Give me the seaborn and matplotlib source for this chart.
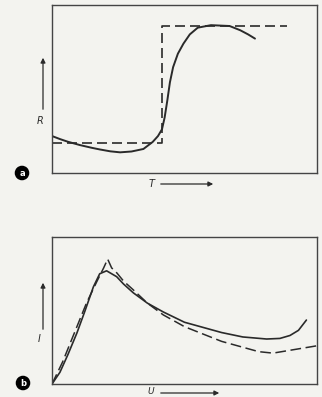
import numpy as np
import pandas as pd
import matplotlib
matplotlib.use('Agg')
import matplotlib.pyplot as plt
import seaborn as sns

# Panel a: resistance R vs temperature T
a_step_x = [0, 41.5, 41.5, 88.7]
a_step_y = [17.9, 17.9, 87.5, 87.5]
a_curve_x = [0, 3, 6, 10.6, 15, 18.1, 22, 25.7, 30, 34.5, 38, 40, 41.5, 42.5, 43.5,
             44.5, 45.7, 47.5, 49.6, 52, 55, 60, 67, 71, 74, 76.6]
a_curve_y = [22, 20.2, 18.6, 16.6, 15, 14, 12.9, 12.3, 12.8, 14.3, 18.5, 22, 26, 33, 43,
             54, 63, 71, 77, 82.5, 86.5, 88, 87.5, 85, 82.5, 80]

# Panel b: current I vs voltage U
b_solid_x = [0, 3, 6, 9.4, 12.5, 15.6, 18, 20.6, 24.4, 27, 30.7, 36, 42, 50, 56, 64,
             72, 81, 86, 89.8, 93, 96]
b_solid_y = [0, 8, 20, 34.7, 50, 66, 75, 77, 73, 68, 62, 55, 49, 42, 39, 35,
             32, 30.6, 31, 33, 36.5, 43.5]
b_dash_x = [0, 4, 8.5, 13, 17, 19.5, 21, 22.5, 24.5, 27, 30.7, 36, 42, 50, 56, 64,
            72, 78, 83.4, 90, 100]
b_dash_y = [0, 15, 35, 55, 70, 79, 85, 79, 75.5, 70, 64, 55, 47, 39, 34.7, 29,
            25, 22, 21, 23, 26]

sns.set_style('white')
bg = '#f3f3ef'
ink = '#2a2a2a'

fig = plt.figure(figsize=(3.22, 3.97), dpi=100, facecolor=bg)

ax_a = fig.add_axes([52/322, (397-173)/397, 265/322, 168/397], facecolor=bg)
ax_b = fig.add_axes([52/322, (397-384)/397, 265/322, 147/397], facecolor=bg)

kw = dict(sort=False, estimator=None, errorbar=None, color=ink)
sns.lineplot(x=a_step_x, y=a_step_y, ax=ax_a, lw=1.2, linestyle=(0, (6, 3)), **kw)
sns.lineplot(x=a_curve_x, y=a_curve_y, ax=ax_a, lw=1.4, **kw)

sns.lineplot(x=b_dash_x, y=b_dash_y, ax=ax_b, lw=1.1, linestyle=(0, (7, 3)), **kw)
sns.lineplot(x=b_solid_x, y=b_solid_y, ax=ax_b, lw=1.2, **kw)

for ax in (ax_a, ax_b):
    ax.set_xlim(0, 100)
    ax.set_ylim(0, 100)
    ax.set_xticks([])
    ax.set_yticks([])
    ax.set_xlabel('')
    ax.set_ylabel('')
    for s in ax.spines.values():
        s.set_color('#444444')
        s.set_linewidth(1.0)

arrow = dict(arrowstyle='-|>', color=ink, lw=0.9, mutation_scale=7)

def px(x, y):
    return (x / 322, 1 - y / 397)

# axis arrows and labels
fig.add_artist(plt.Annotation('', xy=px(43, 55), xytext=px(43, 112), xycoords='figure fraction',
                              arrowprops=arrow))
fig.text(*px(40, 121), 'R', fontsize=7, style='italic', color=ink, ha='center', va='center')
fig.add_artist(plt.Annotation('', xy=px(216, 184), xytext=px(158, 184), xycoords='figure fraction',
                              arrowprops=arrow))
fig.text(*px(152, 184), 'T', fontsize=7, style='italic', color=ink, ha='center', va='center')

fig.add_artist(plt.Annotation('', xy=px(43, 280), xytext=px(43, 332), xycoords='figure fraction',
                              arrowprops=arrow))
fig.text(*px(39, 339), 'I', fontsize=7, style='italic', color=ink, ha='center', va='center')
fig.add_artist(plt.Annotation('', xy=px(222, 393), xytext=px(158, 393), xycoords='figure fraction',
                              arrowprops=arrow))
fig.text(*px(151, 391), 'U', fontsize=6.5, style='italic', color=ink, ha='center', va='center')

# panel markers
for lab, (x, y) in [('a', (22, 173)), ('b', (23, 383))]:
    fig.text(*px(x, y), lab, fontsize=6, fontweight='bold', color='white', ha='center',
             va='center', bbox=dict(boxstyle='circle,pad=0.25', fc='black', ec='black'))

fig.savefig('out.png', dpi=100, facecolor=bg)
